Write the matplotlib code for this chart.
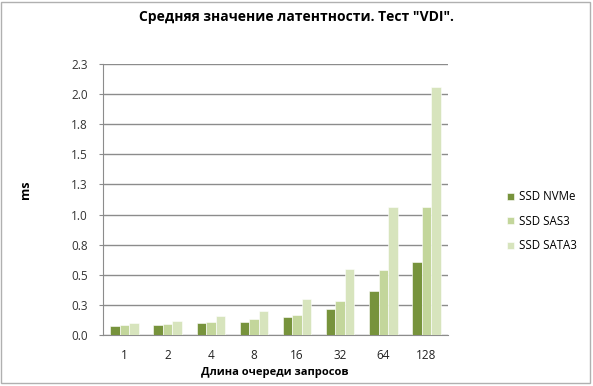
import matplotlib
matplotlib.use("Agg")
import matplotlib.pyplot as plt
import numpy as np
from matplotlib.patches import Rectangle

plt.rcParams['font.family'] = ['Open Sans', 'DejaVu Sans']

categories = ["1", "2", "4", "8", "16", "32", "64", "128"]
series_names = ["SSD NVMe", "SSD SAS3", "SSD SATA3"]
nvme = [0.075, 0.083, 0.10, 0.11, 0.147, 0.22, 0.365, 0.61]
sas3 = [0.083, 0.091, 0.11, 0.136, 0.166, 0.285, 0.537, 1.06]
sata3 = [0.10, 0.12, 0.155, 0.20, 0.30, 0.545, 1.06, 2.06]
yticks = [0.0, 0.25, 0.5, 0.75, 1.0, 1.25, 1.5, 1.75, 2.0, 2.25]
ytick_labels = ["0.0", "0.3", "0.5", "0.8", "1.0", "1.3", "1.5", "1.8", "2.0", "2.3"]
colors = ["#77933C", "#C3D69B", "#D7E4BD"]

W, H = 593, 386
fig = plt.figure(figsize=(W / 100, H / 100), dpi=100)
ax = fig.add_axes([103 / W, 1 - 335 / H, (448 - 103) / W, (335 - 64) / H])

x = np.arange(len(categories))
bw = 0.22
for i, (vals, name, c) in enumerate(zip([nvme, sas3, sata3], series_names, colors)):
    ax.bar(x + (i - 1) * bw, vals, bw, color=c, label=name, edgecolor='white', linewidth=0.4, zorder=3)

ax.set_xlim(-0.5, len(categories) - 0.5)
ax.set_ylim(0, 2.25)
ax.set_yticks(yticks)
ax.set_yticklabels(ytick_labels)
ax.set_xticks(x)
ax.set_xticklabels(categories)
ax.yaxis.grid(True, color='#8c8c8c', linewidth=1.0, zorder=0)
ax.set_axisbelow(True)
for s in ['top', 'right']:
    ax.spines[s].set_visible(False)
ax.spines['left'].set_color('#8c8c8c')
ax.spines['bottom'].set_color('#8c8c8c')
ax.tick_params(axis='y', length=3, color='#8c8c8c', labelsize=8.5, labelcolor='#333333', pad=8)
ax.tick_params(axis='x', length=0, labelsize=8.5, labelcolor='#222222', pad=10)

fig.text(296 / W, 1 - 17 / H, 'Средняя значение латентности. Тест "VDI".', ha='center', va='center',
         fontsize=10, fontweight='bold')
fig.text(25 / W, 1 - 190 / H, 'ms', rotation=90, ha='center', va='center', fontsize=9, fontweight='bold')
fig.text(275 / W, 1 - 373 / H, 'Длина очереди запросов', ha='center', va='center', fontsize=8, fontweight='bold')

leg = fig.legend(loc='upper left', bbox_to_anchor=(497 / W, 1 - 180 / H), frameon=False,
                 fontsize=8.3, handlelength=0.6, handleheight=0.6, handletextpad=0.4, labelspacing=1.0)

fig.patches.append(Rectangle((0.5 / W, 3 / H), (W - 4) / W, (H - 4.5) / H, transform=fig.transFigure,
                             fill=False, edgecolor='#b0b0b0', linewidth=1.0))

fig.savefig('out.png', dpi=100)
